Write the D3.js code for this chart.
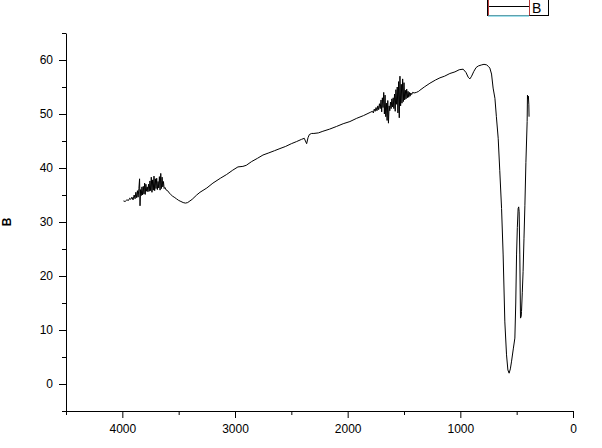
<!DOCTYPE html>
<html>
<head>
<meta charset="utf-8">
<script src="https://cdn.jsdelivr.net/npm/d3@7"></script>
<style>
  html, body { margin: 0; padding: 0; background: #fff; }
  svg { display: block; }
  text { font-family: "Liberation Sans", Arial, sans-serif; }
</style>
</head>
<body>
<svg id="chart" width="602" height="448"></svg>
<script>
// ---- data ----
const wavenumber = [
  3990,3975,3960,3945,3935,3925,3915,3905,3895,3887,3880,3873,3866,3860,3853,3847,3843,3838,3832,3826,
  3820,3814,3808,3802,3797,3791,3785,3779,3773,3767,3761,3755,3749,3743,3737,3731,3725,3719,3713,3707,
  3701,3695,3689,3683,3677,3671,3665,3659,3653,3647,3641,3635,3629,3622,3610,3598,3585,3570,3555,3540,
  3520,3500,3480,3460,3440,3420,3400,3380,3340,3311,3250,3196,3130,3074,3020,2974,2930,2900,2852,2800,
  2752,2700,2650,2601,2550,2500,2453,2410,2385,2375,2364,2352,2340,2320,2300,2260,2220,2160,2098,2040,
  1980,1920,1860,1800,
  1780,1772,1764,1756,1748,1740,1732,1725,1718,1711,1704,1698,1692,1686,1680,1674,1668,1662,1656,1650,
  1644,1638,1632,1626,1620,1614,1608,1602,1596,1590,1584,1578,1572,1566,1560,1554,1548,1542,1536,1530,
  1524,1518,1512,1506,1500,1494,1488,1482,1476,1470,1464,1458,1452,1446,1440,1432,1424,1410,1390,1370,
  1359,1320,1270,1220,1181,1140,1093,1048,1010,975,950,930,915,900,880,860,840,810,790,767,
  750,738,723,709,693,680,664,650,634,620,605,590,578,567,556,546,530,516,508,501,
  494,487,482,478,472,466,460,457,450,443,435,427,418,407,404,400,396,392,390
];
const transmittance = [
  33.9,33.8,34.1,34.0,34.4,34.2,34.6,34.1,35.0,34.3,35.5,34.5,35.8,34.6,36.2,38.0,33.0,36.0,34.9,36.5,
  35.0,36.6,35.2,37.2,35.1,37.0,35.7,36.5,35.6,37.0,35.7,37.6,35.8,38.3,35.5,37.8,35.9,38.5,35.8,38.0,
  36.2,38.1,36.0,37.5,36.3,38.4,35.9,39.0,36.2,38.3,36.5,37.5,36.2,36.4,35.9,35.8,35.4,35.1,34.8,34.6,
  34.3,34.0,33.8,33.6,33.5,33.6,33.9,34.2,35.0,35.5,36.3,37.2,38.1,38.8,39.6,40.2,40.3,40.5,41.2,41.8,
  42.4,42.8,43.2,43.6,44.0,44.5,44.9,45.3,45.5,45.0,44.5,45.6,46.2,46.4,46.4,46.5,46.8,47.2,47.7,48.2,
  48.6,49.2,49.7,50.3,
  50.5,50.2,50.9,50.5,51.2,50.6,51.5,50.8,51.9,51.0,52.6,50.4,53.0,51.2,54.0,50.0,53.5,49.5,52.0,48.8,
  52.5,48.3,51.5,50.6,52.2,51.0,52.8,51.3,53.0,51.0,53.7,50.5,54.5,51.8,55.0,50.2,56.0,49.3,57.0,51.5,
  55.5,52.0,56.5,52.3,55.8,52.6,54.4,52.8,54.6,53.0,54.2,53.1,54.0,53.3,53.9,53.6,54.0,53.9,54.0,54.2,
  54.4,55.0,55.7,56.3,56.7,57.0,57.5,57.8,58.2,58.3,57.7,56.8,56.5,57.0,57.9,58.6,58.9,59.1,59.2,59.1,
  58.8,58.5,57.4,54.8,52.9,49.5,45.5,39.5,32.5,23.9,11.5,5.4,2.6,2.0,2.8,4.1,6.5,8.5,15.0,23.9,
  29.0,32.5,32.8,31.9,23.9,12.2,12.5,13.4,17.0,20.8,27.0,33.1,41.0,48.6,53.5,52.8,53.3,51.7,49.5
];
const xMajorTicks = [4000, 3000, 2000, 1000, 0];
const xMinorTicks = [4500, 3500, 2500, 1500, 500];
const yMajorTicks = [0, 10, 20, 30, 40, 50, 60];
const yMinorTicks = [-5, 5, 15, 25, 35, 45, 55, 65];
const yAxisLabel = "B";
const legendLabel = "B";

// ---- drawing ----
const svg = d3.select("#chart");
const x = d3.scaleLinear().domain([4500, 0]).range([66, 573]);
const y = d3.scaleLinear().domain([-5, 65]).range([411, 33]);

const fontSize = 12;

// x axis
const gx = svg.append("g").attr("transform", `translate(0,${y(-5)})`);
gx.call(d3.axisBottom(x).tickValues(xMajorTicks).tickSize(7).tickSizeOuter(0).tickPadding(6).tickFormat(d3.format("d")));
const gxm = svg.append("g").attr("transform", `translate(0,${y(-5)})`);
gxm.call(d3.axisBottom(x).tickValues(xMinorTicks).tickSize(4).tickSizeOuter(0).tickFormat(""));
gxm.select(".domain").remove();

// y axis
const gy = svg.append("g").attr("transform", `translate(${x(4500)},0)`);
gy.call(d3.axisLeft(y).tickValues(yMajorTicks).tickSize(7).tickSizeOuter(0).tickPadding(6));
const gym = svg.append("g").attr("transform", `translate(${x(4500)},0)`);
gym.call(d3.axisLeft(y).tickValues(yMinorTicks).tickSize(4).tickSizeOuter(0).tickFormat(""));
gym.select(".domain").remove();

svg.selectAll(".tick text")
  .attr("font-family", "'Liberation Sans', Arial, sans-serif")
  .attr("font-size", fontSize)
  .attr("fill", "#000");
svg.selectAll(".domain, .tick line").attr("stroke", "#000").attr("stroke-width", 1);

// y axis title
svg.append("text")
  .attr("transform", `translate(11,${y(30)}) rotate(-90)`)
  .attr("text-anchor", "middle")
  .attr("font-size", 12)
  .attr("font-weight", "bold")
  .text(yAxisLabel);

// data line
const pts = wavenumber.map((w, i) => [w, transmittance[i]]);
svg.append("path")
  .datum(pts)
  .attr("fill", "none")
  .attr("stroke", "#000")
  .attr("stroke-width", 1)
  .attr("stroke-linejoin", "round")
  .attr("d", d3.line().x(d => x(d[0])).y(d => y(d[1])));

// legend (partly cut at top)
const lg = svg.append("g");
lg.append("rect").attr("x", 487.5).attr("y", -2).attr("width", 61).attr("height", 17.5)
  .attr("fill", "#fff").attr("stroke", "#000").attr("stroke-width", 1);
lg.append("line").attr("x1", 488).attr("x2", 529).attr("y1", 16).attr("y2", 16)
  .attr("stroke", "#7fd6e6").attr("stroke-width", 1.5);
lg.append("line").attr("x1", 488.5).attr("x2", 529.5).attr("y1", 6.5).attr("y2", 6.5)
  .attr("stroke", "#000").attr("stroke-width", 1);
lg.append("line").attr("x1", 488.5).attr("x2", 488.5).attr("y1", 0).attr("y2", 15.5)
  .attr("stroke", "#b83a3a").attr("stroke-width", 1);
lg.append("line").attr("x1", 529.5).attr("x2", 529.5).attr("y1", 0).attr("y2", 15.5)
  .attr("stroke", "#b83a3a").attr("stroke-width", 1);
lg.append("text").attr("x", 532).attr("y", 12.5).attr("font-size", 14).text(legendLabel);
</script>
</body>
</html>
